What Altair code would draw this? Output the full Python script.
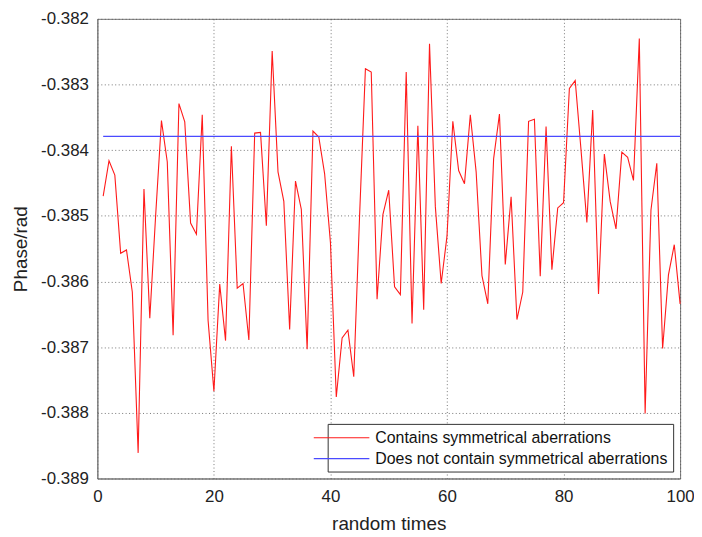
import altair as alt
import pandas as pd

x_vals = list(range(1, 101))
red_vals = [
    -0.38470, -0.38416, -0.38438, -0.38557, -0.38552, -0.38616, -0.38861, -0.38459, -0.38656, -0.38500,
    -0.38355, -0.38418, -0.38682, -0.38329, -0.38357, -0.38511, -0.38528, -0.38346, -0.38659, -0.38767,
    -0.38604, -0.38690, -0.38394, -0.38610, -0.38603, -0.38689, -0.38374, -0.38373, -0.38515, -0.38249,
    -0.38433, -0.38478, -0.38673, -0.38447, -0.38490, -0.38703, -0.38371, -0.38380, -0.38436, -0.38541,
    -0.38776, -0.38686, -0.38674, -0.38745, -0.38500, -0.38276, -0.38281, -0.38627, -0.38498, -0.38461,
    -0.38608, -0.38620, -0.38281, -0.38664, -0.38363, -0.38643, -0.38238, -0.38486, -0.38603, -0.38531,
    -0.38356, -0.38431, -0.38451, -0.38346, -0.38433, -0.38591, -0.38634, -0.38413, -0.38345, -0.38574,
    -0.38471, -0.38658, -0.38616, -0.38356, -0.38353, -0.38592, -0.38364, -0.38582, -0.38488, -0.38480,
    -0.38306, -0.38294, -0.38400, -0.38510, -0.38339, -0.38619, -0.38406, -0.38478, -0.38520, -0.38403,
    -0.38411, -0.38446, -0.38230, -0.38801, -0.38491, -0.38420, -0.38702, -0.38590, -0.38544, -0.38634,
]
blue_level = -0.38379
series_names = ["Contains symmetrical aberrations", "Does not contain symmetrical aberrations"]
series_colors = ["#ff1a1a", "#4a4aff"]
y_ticks = [-0.382, -0.383, -0.384, -0.385, -0.386, -0.387, -0.388, -0.389]
x_ticks = [0, 20, 40, 60, 80, 100]

rows = []
for xv, yv in zip(x_vals, red_vals):
    rows.append({"x": xv, "y": yv, "series": series_names[0]})
for xv in x_vals:
    rows.append({"x": xv, "y": blue_level, "series": series_names[1]})
df = pd.DataFrame(rows)

FONT = "Liberation Sans"

chart = alt.Chart(df).mark_line(strokeWidth=1.1, opacity=1).encode(
    x=alt.X("x:Q", scale=alt.Scale(domain=[0, 100], nice=False),
            axis=alt.Axis(title="random times", values=x_ticks, format="d")),
    y=alt.Y("y:Q", scale=alt.Scale(domain=[-0.389, -0.382], nice=False, zero=False),
            axis=alt.Axis(title="Phase/rad", values=y_ticks,
                          labelExpr="replace(format(datum.value, '.3f'), '\u2212', '-')")),
    color=alt.Color("series:N", scale=alt.Scale(domain=series_names, range=series_colors),
                    legend=alt.Legend(title=None, orient="none", legendX=232, legendY=408,
                                      symbolType="M-3.5,0L3.5,0", symbolSize=256, symbolStrokeWidth=1.1,
                                      labelFontSize=16, labelFont=FONT, labelColor="#111",
                                      strokeColor="#333", fillColor="#ffffff", padding=5,
                                      rowPadding=4, labelLimit=400, labelOffset=25)),
    detail="series:N",
    order="x:Q",
).properties(
    width=587, height=463,
    autosize=alt.AutoSizeParams(type="none"),
    padding={"left": 90, "top": 9, "right": 14, "bottom": 55},
).configure_view(
    stroke="#777", strokeWidth=1
).configure_axis(
    labelFont=FONT, titleFont=FONT, labelFontSize=17, titleFontSize=19,
    labelColor="#222", titleColor="#222", titleFontWeight="normal",
    grid=True, gridColor="#555", gridDash=[1, 2.5], gridOpacity=0.8, gridWidth=1,
    domainColor="#777", ticks=False, labelPadding=9, labelFlush=False, labelOverlap=False,
).configure_axisY(
    titlePadding=10
).configure_axisX(
    titlePadding=10, labelPadding=10
)

chart.save("out.html", embed_options={"renderer": "svg", "actions": False})
